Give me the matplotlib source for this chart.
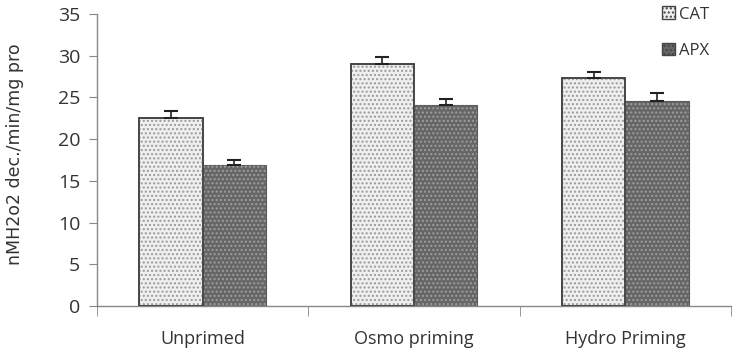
import matplotlib
matplotlib.use("Agg")
import matplotlib.pyplot as plt
import numpy as np
from matplotlib.patches import Patch

categories = ["Unprimed", "Osmo priming", "Hydro Priming"]
cat_values = [22.5, 29.0, 27.3]
cat_errors = [0.9, 0.8, 0.7]
apx_values = [16.9, 24.1, 24.6]
apx_errors = [0.6, 0.7, 0.9]
series_names = ["CAT", "APX"]
yticks = [0, 5, 10, 15, 20, 25, 30, 35]

plt.rcParams['font.family'] = ['Open Sans', 'DejaVu Sans']
plt.rcParams['hatch.linewidth'] = 1.0

fig = plt.figure(figsize=(7.42, 3.5), dpi=100)
ax = fig.add_axes([97/742, 1-306/350, (731-97)/742, (306-14)/350])

x = np.arange(len(categories))
w = 0.3

# CAT bars
ax.bar(x - w/2, cat_values, w, color='#efefef', edgecolor='#444444', linewidth=1.2, zorder=2)
ax.bar(x - w/2, cat_values, w, color='none', edgecolor='#9a9a9a', hatch='....', linewidth=0, zorder=3)
ax.bar(x - w/2, cat_values, w, color='none', edgecolor='#444444', linewidth=1.2, zorder=4)
# APX bars
ax.bar(x + w/2, apx_values, w, color='#666666', edgecolor='#5a5a5a', linewidth=0.8, zorder=2)
ax.bar(x + w/2, apx_values, w, color='none', edgecolor='#9e9e9e', hatch='....', linewidth=0, zorder=3)

# error bars (upper only)
ax.errorbar(x - w/2, cat_values, yerr=[np.zeros(3), cat_errors], fmt='none',
            ecolor='#222222', elinewidth=1.2, capsize=5, capthick=1.5, zorder=5)
ax.errorbar(x + w/2, apx_values, yerr=[np.zeros(3), apx_errors], fmt='none',
            ecolor='#222222', elinewidth=1.2, capsize=5, capthick=1.5, zorder=5)

ax.set_xlim(-0.5, 2.5)
ax.set_ylim(0, 35)
ax.set_yticks(yticks)
ax.set_xticks(x)
ax.set_xticklabels(categories, fontsize=13, color='#333333')
ax.tick_params(axis='x', length=0, pad=17)
ax.set_xticks([-0.5, 0.5, 1.5, 2.5], minor=True)
ax.tick_params(axis='x', which='minor', length=7, color='#888888', direction='out')
ax.tick_params(axis='y', labelsize=14, labelcolor='#333333', length=6, direction='out',
               color='#888888', pad=6)

for s in ['top', 'right']:
    ax.spines[s].set_visible(False)
for s in ['left', 'bottom']:
    ax.spines[s].set_color('#888888')
    ax.spines[s].set_linewidth(1.0)

ax.set_ylabel("nMH2o2 dec./min/mg pro", fontsize=12.5, color='#333333',
              family=['DejaVu Sans'])
ax.yaxis.set_label_coords(-0.115, 0.52)

# legend
handles = [Patch(facecolor='#efefef', edgecolor='#444444', hatch='....'),
           Patch(facecolor='#666666', edgecolor='#444444', hatch='....')]
leg = fig.legend(handles, series_names, loc='upper left', bbox_to_anchor=(652/742, 1.01),
                 frameon=False, fontsize=12, handlelength=0.8, handleheight=0.8,
                 handletextpad=0.2, labelspacing=1.2, borderaxespad=0.2)
for t in leg.get_texts():
    t.set_color('#333333')

fig.savefig("out.png", dpi=100)
